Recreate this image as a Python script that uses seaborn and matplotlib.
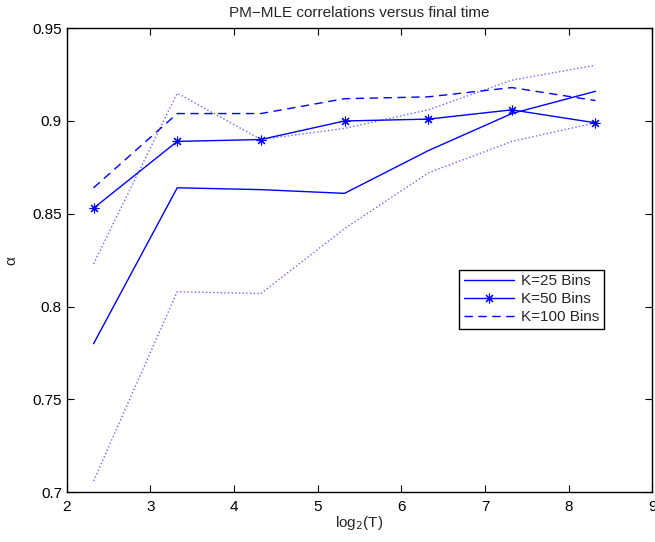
import numpy as np
import pandas as pd
import seaborn as sns
import matplotlib
matplotlib.use("Agg")
import matplotlib.pyplot as plt

# log2 of final time T = 5, 10, ..., 320
log2_T = [2.32, 3.32, 4.32, 5.32, 6.32, 7.32, 8.32]

k25 = [0.780, 0.864, 0.863, 0.861, 0.884, 0.904, 0.916]
k50 = [0.853, 0.889, 0.890, 0.900, 0.901, 0.906, 0.899]
k100 = [0.864, 0.904, 0.904, 0.912, 0.913, 0.918, 0.911]
upper = [0.823, 0.915, 0.890, 0.896, 0.906, 0.922, 0.930]
lower = [0.706, 0.808, 0.807, 0.842, 0.872, 0.889, 0.899]

sns.set_style("ticks")
plt.rcParams["font.family"] = ["Liberation Sans", "DejaVu Sans"]
plt.rcParams["font.size"] = 11
plt.rcParams["xtick.direction"] = "in"
plt.rcParams["ytick.direction"] = "in"
plt.rcParams["xtick.top"] = True
plt.rcParams["ytick.right"] = True

fig = plt.figure(figsize=(6.55, 5.42), dpi=100)
ax = fig.add_axes([0.102, 0.092, 0.894, 0.856])

blue = "#0000ff"
asterisk = (8, 2, 0)

sns.lineplot(x=log2_T, y=k25, ax=ax, color=blue, lw=1, label="K=25 Bins")
sns.lineplot(x=log2_T, y=k50, ax=ax, color=blue, lw=1, marker=asterisk,
             markersize=7, markeredgewidth=0.8, markeredgecolor=blue,
             label="K=50 Bins")
sns.lineplot(x=log2_T, y=k100, ax=ax, color=blue, lw=1,
             label="K=100 Bins")
ax.lines[-1].set_dashes([6, 4])
sns.lineplot(x=log2_T, y=upper, ax=ax, color=blue, lw=1, alpha=0.6,
             linestyle=":", legend=False)
sns.lineplot(x=log2_T, y=lower, ax=ax, color=blue, lw=1, alpha=0.6,
             linestyle=":", legend=False)

ax.set_xlim(2, 9)
ax.set_ylim(0.7, 0.95)
ax.set_xticks(range(2, 10))
ax.set_yticks([0.7, 0.75, 0.8, 0.85, 0.9, 0.95])
ax.set_yticklabels(["0.7", "0.75", "0.8", "0.85", "0.9", "0.95"])
ax.tick_params(length=5, width=0.8, colors="black", labelsize=11)
ax.tick_params(axis="x", pad=6)
ax.tick_params(axis="y", pad=3.5)
for s in ax.spines.values():
    s.set_linewidth(1)
    s.set_color("black")

ax.set_title("PM\u2212MLE correlations versus final time", fontsize=11, pad=8)
ax.set_xlabel("log$_2$(T)", fontsize=11, labelpad=0)
ax.set_ylabel("\u03b1", fontsize=11, labelpad=10)

leg = ax.legend(loc="upper left", bbox_to_anchor=(0.670, 0.479),
                fancybox=False, edgecolor="black", framealpha=1,
                fontsize=11, handlelength=3.3, borderpad=0.3,
                labelspacing=0.25, handletextpad=0.45, borderaxespad=0)
leg.get_frame().set_linewidth(1)

fig.savefig("out.png", dpi=100)
